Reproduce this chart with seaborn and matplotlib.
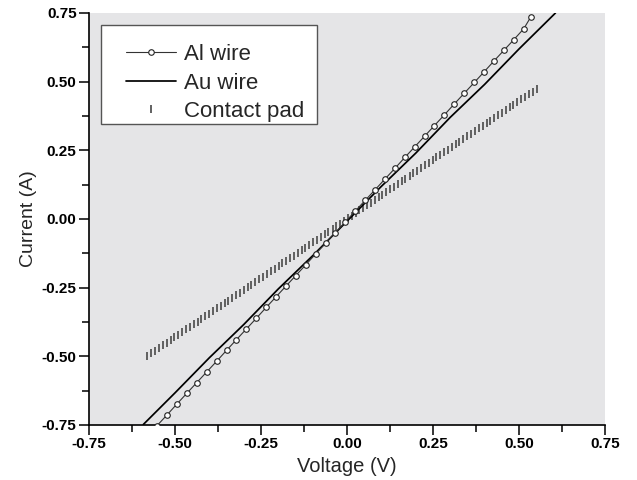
import matplotlib
matplotlib.use("Agg")
import matplotlib.pyplot as plt
from matplotlib.ticker import MultipleLocator, FormatStrFormatter
from matplotlib.patches import Rectangle
import seaborn as sns
import pandas as pd

# ---- data ----
al_v = [-0.552, -0.523, -0.494, -0.466, -0.437, -0.408, -0.379, -0.35, -0.322, -0.293,
        -0.264, -0.235, -0.206, -0.178, -0.149, -0.12, -0.091, -0.062, -0.034, -0.005,
        0.024, 0.053, 0.082, 0.11, 0.139, 0.168, 0.197, 0.226, 0.254, 0.283,
        0.312, 0.341, 0.37, 0.398, 0.427, 0.456, 0.485, 0.514, 0.535]
al_i = [-0.752, -0.713, -0.673, -0.635, -0.596, -0.557, -0.518, -0.478, -0.440, -0.401,
        -0.362, -0.322, -0.283, -0.245, -0.206, -0.167, -0.127, -0.088, -0.050, -0.011,
        0.029, 0.068, 0.107, 0.145, 0.184, 0.224, 0.263, 0.302, 0.340, 0.379,
        0.419, 0.458, 0.497, 0.535, 0.575, 0.614, 0.653, 0.693, 0.737]

au_v = [-0.592, -0.5, -0.4, -0.3, -0.2, -0.1, 0.0, 0.1, 0.2, 0.3, 0.4, 0.5, 0.606]
au_i = [-0.748, -0.633, -0.505, -0.384, -0.255, -0.134, -0.008, 0.119, 0.240, 0.370,
        0.490, 0.619, 0.750]

pad_v = [-0.58, -0.569, -0.558, -0.546, -0.535, -0.524, -0.513, -0.502, -0.49, -0.479,
         -0.468, -0.457, -0.446, -0.434, -0.423, -0.412, -0.401, -0.39, -0.378, -0.367,
         -0.356, -0.345, -0.334, -0.322, -0.311, -0.3, -0.289, -0.278, -0.266, -0.255,
         -0.244, -0.233, -0.222, -0.21, -0.199, -0.188, -0.177, -0.166, -0.154, -0.143,
         -0.132, -0.121, -0.11, -0.098, -0.087, -0.076, -0.065, -0.054, -0.042, -0.031,
         -0.02, -0.009, 0.002, 0.014, 0.025, 0.036, 0.047, 0.058, 0.07, 0.081,
         0.092, 0.103, 0.114, 0.126, 0.137, 0.148, 0.159, 0.17, 0.182, 0.193,
         0.204, 0.215, 0.226, 0.238, 0.249, 0.26, 0.271, 0.282, 0.294, 0.305,
         0.316, 0.327, 0.338, 0.35, 0.361, 0.372, 0.383, 0.394, 0.406, 0.417,
         0.428, 0.439, 0.45, 0.462, 0.473, 0.484, 0.495, 0.506, 0.518, 0.529,
         0.54, 0.551]
pad_i = [-0.499, -0.489, -0.48, -0.47, -0.46, -0.451, -0.441, -0.431, -0.422, -0.412,
         -0.402, -0.393, -0.383, -0.374, -0.364, -0.354, -0.345, -0.335, -0.325, -0.316,
         -0.306, -0.297, -0.287, -0.277, -0.268, -0.258, -0.248, -0.239, -0.229, -0.219,
         -0.21, -0.2, -0.191, -0.181, -0.171, -0.162, -0.152, -0.142, -0.133, -0.123,
         -0.114, -0.104, -0.094, -0.085, -0.075, -0.065, -0.056, -0.046, -0.036, -0.027,
         -0.017, -0.008, 0.002, 0.012, 0.021, 0.031, 0.041, 0.05, 0.06, 0.069,
         0.079, 0.089, 0.098, 0.108, 0.118, 0.127, 0.137, 0.147, 0.156, 0.166,
         0.175, 0.185, 0.195, 0.204, 0.214, 0.224, 0.233, 0.243, 0.252, 0.262,
         0.272, 0.281, 0.291, 0.301, 0.31, 0.32, 0.33, 0.339, 0.349, 0.358,
         0.368, 0.378, 0.387, 0.397, 0.407, 0.416, 0.426, 0.436, 0.445, 0.455,
         0.464, 0.474]

series_labels = ["Al wire", "Au wire", "Contact pad"]
x_ticks = [-0.75, -0.50, -0.25, 0.00, 0.25, 0.50, 0.75]
y_ticks = [-0.75, -0.50, -0.25, 0.00, 0.25, 0.50, 0.75]

# ---- style ----
sns.set_style("ticks")
plt.rcParams["font.family"] = ["Liberation Sans", "DejaVu Sans"]

fig = plt.figure(figsize=(6.37, 4.80), dpi=100)
W, H = 637, 480
ax = fig.add_axes([89 / W, 1 - 425 / H, (605 - 89) / W, (425 - 13) / H])
ax.set_facecolor("#e5e5e7")

df_al = pd.DataFrame({"V": al_v, "I": al_i})
df_au = pd.DataFrame({"V": au_v, "I": au_i})
df_pad = pd.DataFrame({"V": pad_v, "I": pad_i})

sns.lineplot(data=df_au, x="V", y="I", ax=ax, sort=False, estimator=None,
             color="black", linewidth=1.25, label=series_labels[1], zorder=3)
sns.lineplot(data=df_al, x="V", y="I", ax=ax, sort=False, estimator=None,
             color="#333333", linewidth=0.8, marker="o", markersize=4,
             markerfacecolor="white", markeredgecolor="#222222", markeredgewidth=0.8,
             label=series_labels[0], zorder=4)
sns.lineplot(data=df_pad, x="V", y="I", ax=ax, sort=False, estimator=None,
             color="#555555", linestyle="none", marker="|", markersize=5.5,
             markeredgecolor="#555555", markeredgewidth=1.3,
             label=series_labels[2], zorder=2)

ax.set_xlim(-0.75, 0.75)
ax.set_ylim(-0.75, 0.75)
ax.set_xticks(x_ticks)
ax.set_yticks(y_ticks)
ax.xaxis.set_minor_locator(MultipleLocator(0.125))
ax.yaxis.set_minor_locator(MultipleLocator(0.125))
ax.xaxis.set_major_formatter(FormatStrFormatter("%.2f"))
ax.yaxis.set_major_formatter(FormatStrFormatter("%.2f"))
ax.tick_params(axis="both", which="major", direction="out", length=7, width=1.1,
               labelsize=11, color="black", labelcolor="black", pad=2)
ax.tick_params(axis="both", which="minor", direction="out", length=5, width=1.1,
               color="black")
for lab in ax.get_xticklabels() + ax.get_yticklabels():
    lab.set_fontweight("bold")

for s in ["top", "right"]:
    ax.spines[s].set_visible(False)
for s in ["left", "bottom"]:
    ax.spines[s].set_color("black")
    ax.spines[s].set_linewidth(1.2)

ax.set_xlabel("Voltage (V)", fontsize=14.5, labelpad=4)
ax.set_ylabel("Current (A)", fontsize=14, labelpad=3)

# legend frame drawn separately, legend itself without frame
frame = Rectangle((100.7 / W, 1 - 124 / H), (316.7 - 100.7) / W, (124 - 25) / H,
                  transform=fig.transFigure, facecolor="white", edgecolor="#555555",
                  linewidth=1.0, zorder=8, clip_on=False)
ax.add_patch(frame)

handles, labels = ax.get_legend_handles_labels()
order = [labels.index(l) for l in series_labels]
leg = ax.legend([handles[k] for k in order], [labels[k] for k in order],
                loc="upper left", bbox_to_anchor=(126 / W, 1 - 44 / H),
                bbox_transform=fig.transFigure, borderaxespad=0,
                fontsize=16, frameon=False, numpoints=1,
                handlelength=2.25, handletextpad=0.36, labelspacing=0.34,
                borderpad=0)
leg.set_zorder(10)

fig.savefig("out.png", dpi=100, facecolor="white")
